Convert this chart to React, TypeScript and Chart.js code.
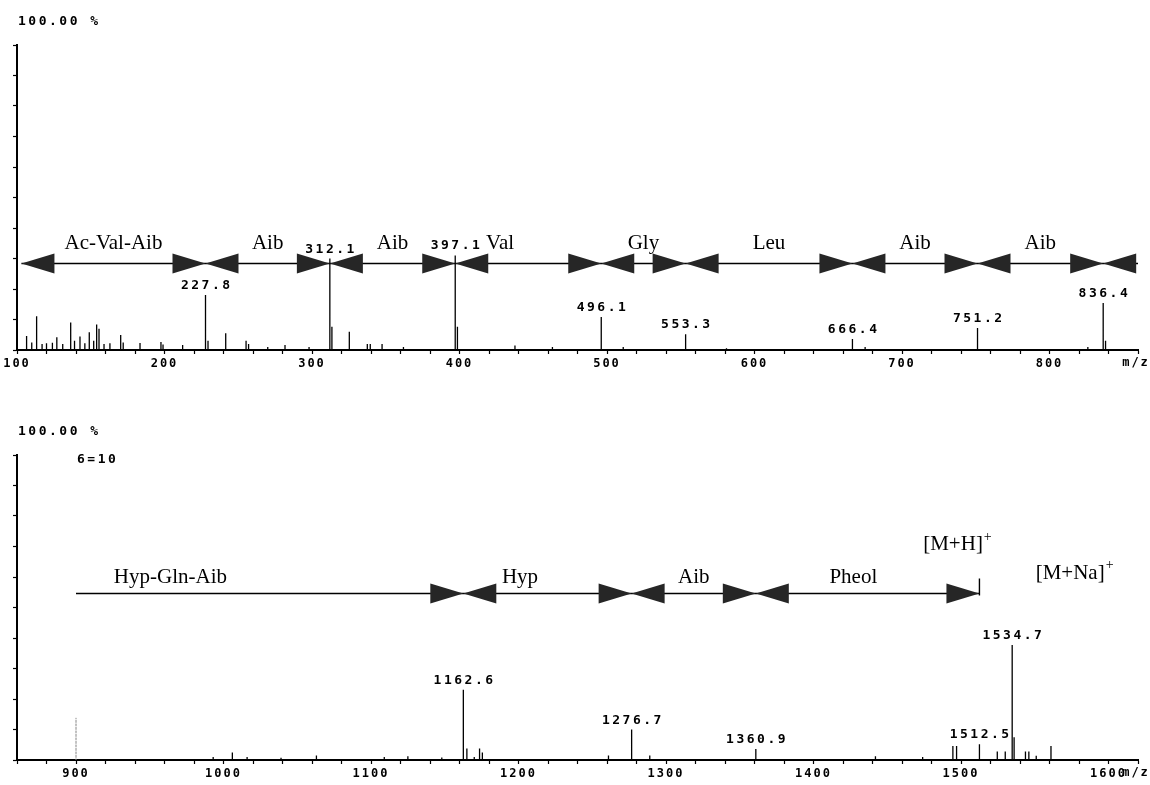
import React, { useEffect, useRef } from 'react';
import { Chart, registerables } from 'chart.js';

Chart.register(...registerables);

// ---------- Upper spectrum (m/z 100 – 860) ----------
const topMz = [106.5, 110, 113.3, 117, 120, 124, 127, 131, 136.4, 139, 142.7, 146, 149, 152, 154, 155.6, 159, 163, 170.3, 172, 183.4, 197.6, 199, 212.3, 227.8, 229.5, 241.5, 255.3, 257, 270, 281.7, 298, 312.1, 313.5, 325.3, 337.5, 339.5, 347.5, 362, 397.1, 398.6, 437.6, 463, 496.1, 511, 553.3, 581, 666.4, 675, 751.2, 826, 836.4, 838];
const topIntensity = [4.6, 2.5, 11.1, 2, 2.2, 2.4, 4.2, 2, 9, 3, 4.4, 2.2, 5.8, 3, 8.4, 7, 2, 2.2, 4.9, 2.5, 2.3, 2.6, 1.8, 1.6, 18, 3, 5.5, 3, 2, 1, 1.6, 1, 30, 7.6, 6, 2, 2, 2, 1, 31, 7.6, 1.5, 1, 10.8, 1, 5.2, 0.6, 3.6, 1, 7.2, 1, 15.4, 3];
const topLabeledPeaks = [227.8, 312.1, 397.1, 496.1, 553.3, 666.4, 751.2, 836.4];
const topBoundaries = [103, 227.8, 312.1, 397.1, 496.1, 553.3, 666.4, 751.2, 836.4];
const topResidues = ['Ac-Val-Aib', 'Aib', 'Aib', 'Val', 'Gly', 'Leu', 'Aib', 'Aib'];

// ---------- Lower spectrum (m/z 860 – 1620) ----------
const bottomMz = [993, 1006, 1016, 1039, 1063, 1109, 1125, 1148, 1162.6, 1165, 1170, 1173.6, 1175.5, 1261, 1276.7, 1289, 1360.9, 1442, 1474, 1494.5, 1497, 1512.5, 1524.6, 1530, 1534.7, 1536, 1543.7, 1546, 1551, 1561];
const bottomIntensity = [1, 2.5, 1, 0.7, 1.5, 1, 1.2, 0.8, 23, 3.8, 1, 3.8, 2.5, 1.5, 10, 1.5, 3.6, 1.2, 1, 4.6, 4.6, 5.2, 2.8, 2.8, 37.7, 7.5, 2.8, 2.8, 1.4, 4.6];
const bottomMarkerMz = [900];
const bottomMarkerIntensity = [13.8];
const bottomLabeledPeaks = [1162.6, 1276.7, 1360.9, 1512.5, 1534.7];
const bottomBoundaries = [900, 1162.6, 1276.7, 1360.9, 1512.5];
const bottomResidues = ['Hyp-Gln-Aib', 'Hyp', 'Aib', 'Pheol'];
const ionLabels = ['[M+H]', '[M+Na]'];
const ionMz = [1494.6, 1574];

const MONO = "'DejaVu Sans Mono', monospace";
const SERIF = "'Liberation Serif', 'Times New Roman', serif";

function sticks(mz: number[], inten: number[]) {
  const pts: { x: number; y: number }[] = [];
  mz.forEach((m, i) => {
    pts.push({ x: m, y: 0 }, { x: m, y: inten[i] }, { x: m, y: 0 });
  });
  return pts;
}

function annotationPlugin(spec: any) {
  return {
    id: 'msAnnot',
    beforeDraw(chart: any) {
      chart.ctx.letterSpacing = '2px';
    },
    afterDraw(chart: any) {
      const { ctx, chartArea } = chart;
      const xs = chart.scales.x;
      const ys = chart.scales.y;
      const px = (v: number) => xs.getPixelForValue(v);
      const py = (v: number) => ys.getPixelForValue(v);
      ctx.save();
      ctx.fillStyle = '#000';

      // header texts
      ctx.font = `bold 13px ${MONO}`;
      ctx.letterSpacing = '2.5px';
      ctx.textAlign = 'left';
      ctx.textBaseline = 'middle';
      spec.header.forEach((h: any) => ctx.fillText(h.text, h.x, h.y));

      // axis unit
      ctx.font = `bold 12px ${MONO}`;
      ctx.letterSpacing = '2px';
      ctx.textAlign = 'center';
      ctx.fillText('m/z', chartArea.right - 2, chartArea.bottom + 13);

      // peak labels
      ctx.font = `bold 13px ${MONO}`;
      ctx.letterSpacing = '2.5px';
      ctx.textBaseline = 'alphabetic';
      spec.labeled.forEach((m: number) => {
        const h = spec.inten[spec.mz.indexOf(m)];
        ctx.fillText(m.toFixed(1), px(m) + 1.25, py(h) - 6);
      });

      // sequence arrows
      const ay = Math.round(py(spec.arrowY)) + 0.5;
      const b = spec.boundaries.map(px);
      const W = 33;
      const H = 10;
      ctx.strokeStyle = '#000';
      ctx.lineWidth = 1.4;
      ctx.beginPath();
      ctx.moveTo(b[0], ay);
      ctx.lineTo(px(spec.lineEnd), ay);
      ctx.stroke();
      ctx.fillStyle = '#262626';
      const tri = (tip: number, dir: number) => {
        ctx.beginPath();
        ctx.moveTo(tip, ay);
        ctx.lineTo(tip - dir * W, ay - H);
        ctx.lineTo(tip - dir * W, ay + H);
        ctx.closePath();
        ctx.fill();
      };
      b.forEach((x: number, i: number) => {
        if (i > 0) tri(x, 1);
        const last = i === b.length - 1;
        if ((i === 0 && spec.startArrow) || (i > 0 && !last) || (last && spec.trailingArrow)) tri(x, -1);
      });
      if (spec.endBar) {
        const xe = b[b.length - 1];
        ctx.beginPath();
        ctx.moveTo(xe, ay + 2);
        ctx.lineTo(xe, ay - 15);
        ctx.stroke();
      }

      // residue labels
      ctx.fillStyle = '#000';
      ctx.letterSpacing = '0px';
      ctx.font = `21px ${SERIF}`;
      ctx.textAlign = 'center';
      ctx.textBaseline = 'middle';
      const ly = py(spec.labelY);
      spec.residues.forEach((r: string, i: number) => {
        const at = spec.labelAt && spec.labelAt[i] != null ? px(spec.labelAt[i]) : (b[i] + b[i + 1]) / 2;
        ctx.fillText(r, at, ly);
      });

      // ion labels
      (spec.ions || []).forEach((ion: any) => {
        ctx.font = `21px ${SERIF}`;
        ctx.textAlign = 'left';
        const w = ctx.measureText(ion.text).width;
        const x0 = px(ion.x) - w / 2;
        const y0 = py(ion.y);
        ctx.fillText(ion.text, x0, y0);
        ctx.font = `14px ${SERIF}`;
        ctx.fillText('+', x0 + w + 1, y0 - 8);
      });

      ctx.restore();
    },
  };
}

function makeConfig(spec: any): any {
  const datasets: any[] = [
    {
      data: sticks(spec.mz, spec.inten),
      borderColor: '#000',
      borderWidth: 1.3,
      pointRadius: 0,
      tension: 0,
      fill: false,
    },
  ];
  if (spec.markerMz) {
    datasets.push({
      data: sticks(spec.markerMz, spec.markerInten),
      borderColor: '#8a8a8a',
      borderWidth: 1,
      borderDash: [1.5, 2],
      pointRadius: 0,
      tension: 0,
      fill: false,
    });
  }
  return {
    type: 'line',
    data: { datasets },
    options: {
      responsive: false,
      animation: false,
      devicePixelRatio: 1,
      layout: { padding: { left: 11, right: 12, top: spec.padTop, bottom: spec.padBottom } },
      plugins: { legend: { display: false }, tooltip: { enabled: false }, title: { display: false } },
      scales: {
        x: {
          type: 'linear',
          min: spec.xMin,
          max: spec.xMax,
          border: { color: '#000', width: 2 },
          grid: { drawOnChartArea: false, tickLength: 4, color: '#000', tickWidth: 1.2 },
          ticks: {
            stepSize: 20,
            autoSkip: false,
            maxRotation: 0,
            padding: 3,
            color: '#000',
            font: { family: MONO, size: 12, weight: 'bold' },
            callback: (v: any) => (Math.round(v) % 100 === 0 ? String(Math.round(v)) : ''),
          },
          afterFit: (s: any) => {
            s.height = 25;
          },
        },
        y: {
          type: 'linear',
          min: 0,
          max: 100,
          border: { color: '#000', width: 2 },
          grid: { drawOnChartArea: false, tickLength: 4, color: '#000', tickWidth: 1.2 },
          ticks: { display: false, stepSize: 10 },
          afterFit: (s: any) => {
            s.width = 6;
          },
        },
      },
    },
    plugins: [annotationPlugin(spec)],
  };
}

const topSpec = {
  mz: topMz,
  inten: topIntensity,
  labeled: topLabeledPeaks,
  boundaries: topBoundaries,
  residues: topResidues,
  labelAt: [null, null, null, 427.5, null, null, null, null],
  lineEnd: 860,
  startArrow: true,
  trailingArrow: true,
  endBar: false,
  arrowY: 28.4,
  labelY: 34.8,
  xMin: 100,
  xMax: 860,
  padTop: 45,
  padBottom: 20,
  header: [{ text: '100.00 %', x: 18, y: 22 }],
};

const bottomSpec = {
  mz: bottomMz,
  inten: bottomIntensity,
  markerMz: bottomMarkerMz,
  markerInten: bottomMarkerIntensity,
  labeled: bottomLabeledPeaks,
  boundaries: bottomBoundaries,
  residues: bottomResidues,
  labelAt: [964, 1201, null, 1427],
  lineEnd: 1512.5,
  startArrow: false,
  trailingArrow: false,
  endBar: true,
  arrowY: 54.75,
  labelY: 60,
  ions: [
    { text: ionLabels[0], x: ionMz[0], y: 70.5 },
    { text: ionLabels[1], x: ionMz[1], y: 61.3 },
  ],
  xMin: 860,
  xMax: 1620,
  padTop: 60,
  padBottom: 0,
  header: [
    { text: '100.00 %', x: 18, y: 37 },
    { text: '6=10', x: 77, y: 65 },
  ],
};

function SpectrumCanvas({ spec, top, height }: { spec: any; top: number; height: number }) {
  const ref = useRef<HTMLCanvasElement>(null);
  useEffect(() => {
    const chart = new Chart(ref.current as HTMLCanvasElement, makeConfig(spec));
    return () => chart.destroy();
  }, [spec]);
  return (
    <canvas
      ref={ref}
      width={1150}
      height={height}
      style={{ position: 'absolute', left: 0, top, width: 1150, height, display: 'block' }}
    />
  );
}

export default function App() {
  return (
    <div
      style={{
        position: 'absolute',
        left: 0,
        top: 0,
        width: 1150,
        height: 785,
        background: '#fff',
        overflow: 'hidden',
      }}
    >
      <SpectrumCanvas spec={topSpec} top={0} height={395} />
      <SpectrumCanvas spec={bottomSpec} top={395} height={390} />
    </div>
  );
}
